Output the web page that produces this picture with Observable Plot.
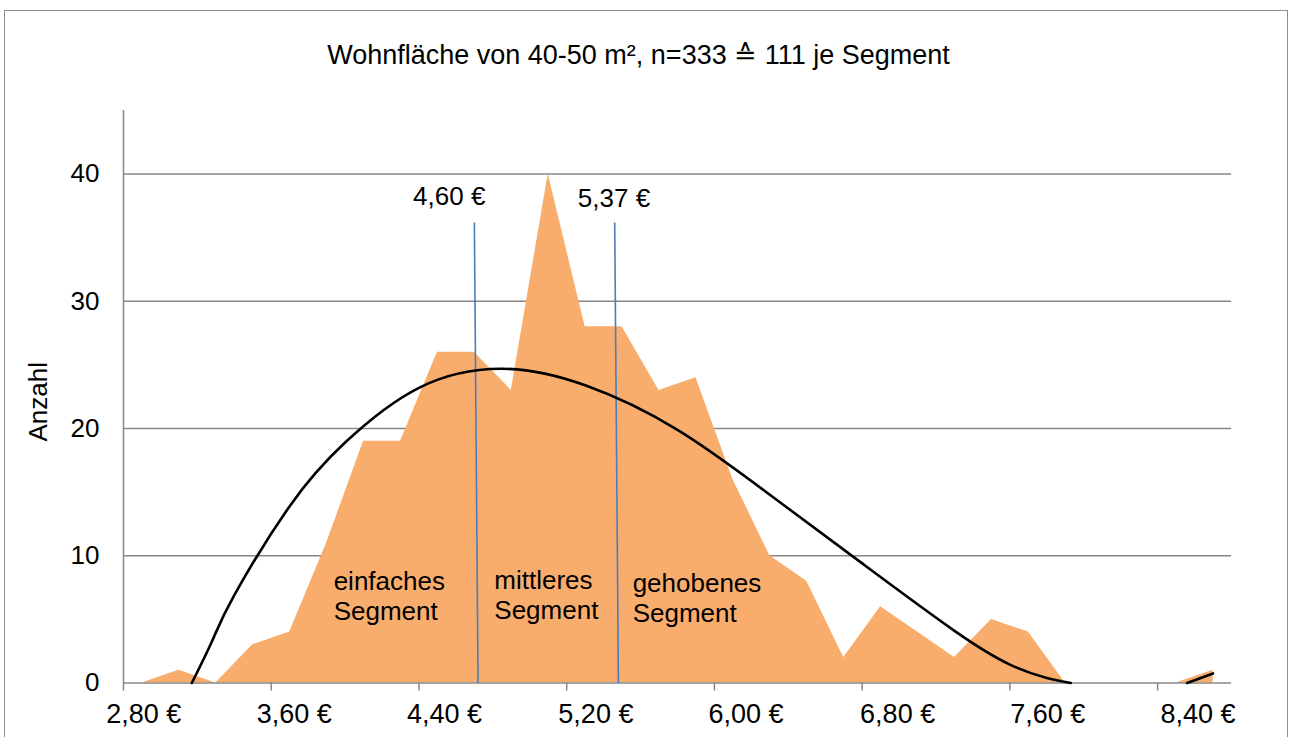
<!DOCTYPE html>
<html><head><meta charset="utf-8">
<script src="https://cdn.jsdelivr.net/npm/d3@7"></script>
<script src="https://cdn.jsdelivr.net/npm/@observablehq/plot@0.6"></script>
<style>
html,body{margin:0;padding:0;background:#fff;overflow:hidden;}
#wrap{position:relative;width:1289px;height:737px;}
#border{position:absolute;left:4px;top:10px;width:1282px;height:800px;border:1.5px solid #8e8e8e;pointer-events:none;}
#chart svg{display:block}
</style></head><body>
<div id="wrap"><div id="chart"></div><div id="border"></div></div>
<script>
// Bin midpoints (€/m²) and counts
const binMid = [2.9,3.1,3.3,3.5,3.7,3.9,4.1,4.3,4.5,4.7,4.9,5.1,5.3,5.5,5.7,5.9,6.1,6.3,6.5,6.7,6.9,7.1,7.3,7.5,7.7,7.9,8.1,8.3,8.5,8.7];
const counts = [0,1,0,3,4,11,19,19,26,26,23,40,28,28,23,24,16,10,8,2,6,4,2,5,4,0,0,0,0,1];

// Trend line (two visible pieces)
const trendX = [3.17,3.28,3.4,3.7,4.0,4.4,4.85,5.3,5.8,6.3,6.8,7.3,7.6,7.8,7.93, 8.56,8.70];
const trendY = [0,3.3,6.9,13.9,18.9,23.2,24.7,23.4,19.9,14.8,9.4,4.1,1.45,0.4,0, 0,0.75];
const trendPart = ["a","a","a","a","a","a","a","a","a","a","a","a","a","a","a","b","b"];

// Segment boundaries
const splitLabels = ["4,60 €","5,37 €"];
const splitTopX = [4.70,5.46];
const splitBotX = [4.72,5.48];
const splitTopY = [36.2,36.2];
const splitLabelX = [4.564,5.456];
const splitLabelY = [38.2,38.1];

// Segment names
const segNames = ["einfaches\nSegment","mittleres\nSegment","gehobenes\nSegment"];
const segX = [3.938,4.808,5.557];
const segY = [6.9,6.95,6.75];

// Axes
const xTicks = [2.8,3.6,4.4,5.2,6.0,6.8,7.6,8.4];
const xTickLabels = ["2,80 €","3,60 €","4,40 €","5,20 €","6,00 €","6,80 €","7,60 €","8,40 €"];
const xTickLabelPos = [2.910,3.725,4.538,5.358,6.171,6.992,7.805,8.619];
const yTicks = [0,10,20,30,40];
const title = "Wohnfläche von 40-50 m², n=333 ≙ 111 je Segment";
const yLabel = "Anzahl";

const hist = binMid.map((x,i)=>({x, n: counts[i]}));
const trend = trendX.map((x,i)=>({x, y: trendY[i], part: trendPart[i]}));
const splits = splitLabels.map((label,i)=>({label, x1: splitTopX[i], x2: splitBotX[i], y1: splitTopY[i], y2: 0, lx: splitLabelX[i], ly: splitLabelY[i]}));
const segs = segNames.map((t,i)=>({t, x: segX[i], y: segY[i]}));
const xLabels = xTickLabels.map((t,i)=>({t, x: xTickLabelPos[i]}));

const gray = "#878787";

const chart = Plot.plot({
  width: 1289,
  height: 737,
  marginLeft: 123,
  marginRight: 58,
  marginTop: 110,
  marginBottom: 54.5,
  style: {fontFamily: "'Liberation Sans', Arial, sans-serif", fontSize: "27px", color: "black", background: "transparent"},
  x: {domain: [2.8, 8.8]},
  y: {domain: [0, 45]},
  marks: [
    Plot.gridY(yTicks.slice(1), {stroke: gray, strokeOpacity: 1, strokeWidth: 1.5}),
    Plot.areaY(hist, {x: "x", y: "n", fill: "#F9AD6D"}),
    Plot.ruleY([0], {stroke: gray, strokeWidth: 1.5}),
    Plot.ruleX([2.8], {stroke: gray, strokeWidth: 1.5}),
    Plot.axisX({ticks: xTicks, tickSize: 8, stroke: gray, strokeWidth: 1.5, fill: "none", label: null}),
    Plot.text(xLabels, {x: "x", y: 0, dy: 31.5, text: "t", fill: "black"}),
    Plot.axisY({ticks: yTicks, tickSize: 0, tickPadding: 24, fill: "black", fontSize: 26, label: null}),
    Plot.link(splits, {x1: "x1", y1: "y1", x2: "x2", y2: "y2", stroke: "#4A7EBB", strokeWidth: 1.6}),
    Plot.line(trend, {x: "x", y: "y", z: "part", stroke: "black", strokeWidth: 2.6, curve: "natural"}),
    Plot.text(splits, {x: "lx", y: "ly", text: "label", fill: "black", fontSize: 26}),
    Plot.text(segs, {x: "x", y: "y", text: "t", textAnchor: "start", lineHeight: 1.15, fill: "black", fontSize: 26}),
    Plot.text([title], {frameAnchor: "top-left", dx: 515, dy: -55, textAnchor: "middle", lineAnchor: "middle", fill: "black"}),
    Plot.text([yLabel], {frameAnchor: "left", dx: -85, dy: 5, rotate: -90, textAnchor: "middle", lineAnchor: "middle", fill: "black", fontSize: 26})
  ]
});
document.getElementById("chart").appendChild(chart);
</script>
</body></html>
